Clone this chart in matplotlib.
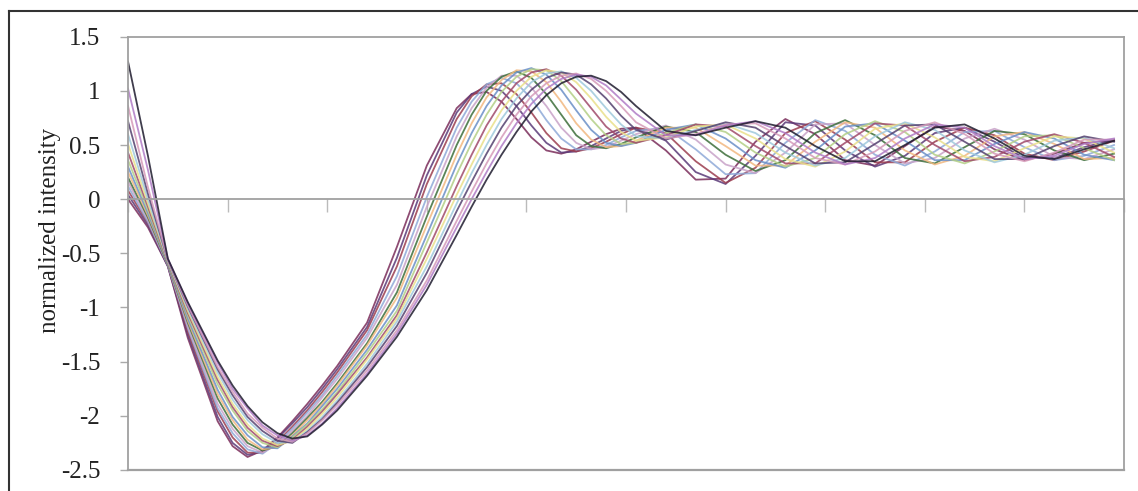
import matplotlib
matplotlib.use('Agg')
from matplotlib import pyplot as plt
from matplotlib.lines import Line2D

plt.rcParams['font.family'] = ['Liberation Serif', 'DejaVu Serif']

# sample positions along the profile (same for every curve)
x_pos = [0, 2, 4, 6, 9, 10.5, 12, 13.5, 15, 16.5, 18, 19.5, 21, 24, 27, 30, 33,
         34.5, 36, 37.5, 39, 40.5, 42, 43.5, 45, 46.5, 48, 49.5, 51, 54, 57, 60,
         63, 66, 69, 72, 75, 78, 81, 84, 87, 90, 93, 96, 99]

c01 = [0.00, -0.26, -0.62, -1.28, -2.05, -2.28, -2.38, -2.32, -2.20, -2.05, -1.89, -1.72, -1.54, -1.14, -0.44, 0.31, 0.84,
       0.97, 0.99, 0.90, 0.74, 0.57, 0.45, 0.42, 0.46, 0.53, 0.60, 0.65, 0.66, 0.45, 0.18, 0.19,
       0.53, 0.74, 0.60, 0.36, 0.31, 0.49, 0.67, 0.63, 0.46, 0.36, 0.42, 0.52, 0.54]
c02 = [0.04, -0.24, -0.62, -1.25, -2.01, -2.25, -2.36, -2.33, -2.21, -2.07, -1.92, -1.75, -1.57, -1.18, -0.54, 0.22, 0.80,
       0.97, 1.04, 1.00, 0.86, 0.68, 0.52, 0.43, 0.44, 0.49, 0.56, 0.63, 0.66, 0.54, 0.25, 0.14,
       0.40, 0.71, 0.68, 0.45, 0.30, 0.40, 0.61, 0.66, 0.53, 0.38, 0.38, 0.48, 0.55]
c03 = [0.08, -0.22, -0.61, -1.22, -1.96, -2.20, -2.34, -2.34, -2.24, -2.10, -1.95, -1.78, -1.60, -1.21, -0.62, 0.14, 0.74,
       0.95, 1.06, 1.07, 0.97, 0.80, 0.61, 0.47, 0.44, 0.47, 0.53, 0.60, 0.66, 0.61, 0.35, 0.15,
       0.29, 0.61, 0.72, 0.55, 0.34, 0.34, 0.53, 0.66, 0.59, 0.42, 0.36, 0.44, 0.54]
c04 = [0.12, -0.21, -0.61, -1.19, -1.93, -2.16, -2.31, -2.35, -2.25, -2.12, -1.97, -1.81, -1.63, -1.25, -0.71, 0.02, 0.66,
       0.90, 1.06, 1.12, 1.07, 0.93, 0.73, 0.56, 0.46, 0.46, 0.50, 0.57, 0.63, 0.66, 0.46, 0.23,
       0.24, 0.52, 0.73, 0.63, 0.41, 0.31, 0.44, 0.62, 0.63, 0.48, 0.36, 0.40, 0.50]
c05 = [0.16, -0.19, -0.60, -1.17, -1.89, -2.12, -2.28, -2.34, -2.26, -2.14, -2.00, -1.83, -1.66, -1.28, -0.79, -0.07, 0.58,
       0.84, 1.03, 1.14, 1.14, 1.03, 0.86, 0.66, 0.52, 0.46, 0.48, 0.54, 0.60, 0.68, 0.55, 0.32,
       0.24, 0.43, 0.69, 0.70, 0.50, 0.33, 0.38, 0.56, 0.65, 0.55, 0.39, 0.37, 0.46]
c06 = [0.20, -0.17, -0.60, -1.14, -1.84, -2.08, -2.25, -2.32, -2.28, -2.16, -2.02, -1.87, -1.70, -1.33, -0.86, -0.16, 0.50,
       0.78, 1.00, 1.13, 1.18, 1.12, 0.97, 0.78, 0.59, 0.49, 0.47, 0.51, 0.57, 0.67, 0.62, 0.41,
       0.26, 0.36, 0.61, 0.73, 0.59, 0.38, 0.33, 0.48, 0.63, 0.60, 0.45, 0.36, 0.42]
c07 = [0.25, -0.15, -0.59, -1.12, -1.80, -2.04, -2.22, -2.31, -2.29, -2.18, -2.04, -1.89, -1.72, -1.35, -0.91, -0.24, 0.41,
       0.70, 0.94, 1.10, 1.19, 1.18, 1.08, 0.90, 0.70, 0.55, 0.48, 0.49, 0.54, 0.66, 0.66, 0.49,
       0.31, 0.31, 0.53, 0.71, 0.66, 0.45, 0.32, 0.40, 0.58, 0.62, 0.51, 0.37, 0.38]
c08 = [0.30, -0.13, -0.59, -1.10, -1.76, -2.01, -2.18, -2.29, -2.30, -2.19, -2.07, -1.91, -1.75, -1.39, -0.98, -0.33, 0.32,
       0.61, 0.86, 1.05, 1.17, 1.21, 1.15, 1.01, 0.82, 0.64, 0.52, 0.49, 0.52, 0.64, 0.69, 0.56,
       0.36, 0.29, 0.45, 0.67, 0.70, 0.54, 0.36, 0.36, 0.51, 0.62, 0.56, 0.41, 0.36]
c09 = [0.36, -0.10, -0.58, -1.07, -1.71, -1.95, -2.14, -2.25, -2.29, -2.20, -2.08, -1.94, -1.78, -1.42, -1.03, -0.40, 0.23,
       0.52, 0.78, 0.99, 1.13, 1.20, 1.19, 1.09, 0.92, 0.74, 0.59, 0.51, 0.52, 0.61, 0.69, 0.62,
       0.43, 0.30, 0.38, 0.60, 0.72, 0.62, 0.41, 0.33, 0.44, 0.58, 0.59, 0.47, 0.36]
c10 = [0.43, -0.07, -0.58, -1.05, -1.67, -1.92, -2.11, -2.23, -2.28, -2.22, -2.10, -1.96, -1.80, -1.46, -1.07, -0.49, 0.12,
       0.41, 0.68, 0.90, 1.07, 1.17, 1.20, 1.14, 1.01, 0.84, 0.67, 0.56, 0.52, 0.59, 0.69, 0.67,
       0.49, 0.33, 0.33, 0.52, 0.70, 0.68, 0.50, 0.35, 0.39, 0.53, 0.60, 0.52, 0.39]
c11 = [0.51, -0.04, -0.57, -1.03, -1.64, -1.89, -2.08, -2.21, -2.27, -2.23, -2.12, -1.98, -1.83, -1.48, -1.10, -0.55, 0.04,
       0.32, 0.59, 0.82, 1.00, 1.13, 1.19, 1.17, 1.08, 0.93, 0.76, 0.62, 0.54, 0.57, 0.67, 0.69,
       0.56, 0.37, 0.30, 0.44, 0.65, 0.70, 0.57, 0.39, 0.35, 0.47, 0.58, 0.56, 0.43]
c12 = [0.60, 0.00, -0.57, -1.01, -1.60, -1.85, -2.04, -2.17, -2.25, -2.24, -2.14, -2.01, -1.86, -1.52, -1.13, -0.62, -0.04,
       0.24, 0.50, 0.74, 0.93, 1.08, 1.16, 1.18, 1.12, 1.00, 0.84, 0.69, 0.58, 0.56, 0.64, 0.70,
       0.61, 0.43, 0.31, 0.38, 0.58, 0.71, 0.64, 0.45, 0.34, 0.41, 0.54, 0.57, 0.47]
c13 = [0.72, 0.05, -0.56, -0.99, -1.57, -1.81, -2.01, -2.14, -2.23, -2.25, -2.15, -2.03, -1.88, -1.55, -1.17, -0.68, -0.11,
       0.16, 0.42, 0.66, 0.86, 1.01, 1.12, 1.17, 1.15, 1.06, 0.93, 0.77, 0.64, 0.55, 0.63, 0.71,
       0.66, 0.49, 0.33, 0.34, 0.51, 0.68, 0.69, 0.53, 0.37, 0.37, 0.49, 0.58, 0.53]
c14 = [0.86, 0.11, -0.56, -0.98, -1.55, -1.78, -1.98, -2.11, -2.21, -2.24, -2.16, -2.04, -1.90, -1.58, -1.21, -0.75, -0.20,
       0.07, 0.33, 0.57, 0.78, 0.95, 1.07, 1.14, 1.16, 1.11, 1.00, 0.86, 0.71, 0.56, 0.60, 0.69,
       0.70, 0.56, 0.38, 0.32, 0.44, 0.63, 0.71, 0.60, 0.42, 0.35, 0.43, 0.55, 0.55]
c15 = [1.02, 0.27, -0.55, -0.96, -1.51, -1.75, -1.93, -2.09, -2.18, -2.23, -2.18, -2.07, -1.93, -1.61, -1.24, -0.79, -0.26,
       0.00, 0.25, 0.49, 0.70, 0.88, 1.02, 1.11, 1.15, 1.13, 1.05, 0.92, 0.79, 0.59, 0.59, 0.68,
       0.72, 0.61, 0.43, 0.32, 0.38, 0.56, 0.69, 0.66, 0.49, 0.37, 0.40, 0.51, 0.56]
c16 = [1.27, 0.40, -0.55, -0.95, -1.49, -1.72, -1.91, -2.06, -2.16, -2.21, -2.19, -2.08, -1.95, -1.63, -1.27, -0.84, -0.33,
       -0.07, 0.18, 0.41, 0.62, 0.81, 0.96, 1.07, 1.13, 1.14, 1.09, 0.99, 0.86, 0.63, 0.59, 0.66,
       0.72, 0.66, 0.49, 0.35, 0.35, 0.50, 0.66, 0.69, 0.56, 0.40, 0.37, 0.46, 0.54]

curves = [c01, c02, c03, c04, c05, c06, c07, c08, c09, c10, c11, c12, c13, c14, c15, c16]
colors = ['#7a2c5a', '#5b3a78', '#9b3d4f', '#8ea9d8', '#c8a2c8', '#3d6e3a',
          '#f2b880', '#6a8fc7', '#b3cf86', '#a04a6a', '#e9e08a', '#9fc9dc',
          '#54406e', '#d59ab9', '#b07cc6', '#1e1b2e']

y_ticks = [-2.5, -2, -1.5, -1, -0.5, 0, 0.5, 1, 1.5]
y_tick_labels = ['-2.5', '-2', '-1.5', '-1', '-0.5', '0', '0.5', '1', '1.5']

fig = plt.figure(figsize=(11.38, 4.91), dpi=100)
ax = fig.add_axes([0.1125, 0.0428, 0.8752, 0.8825])

for ys, col in zip(curves, colors):
    ax.plot(x_pos, ys, color=col, lw=1.3, alpha=0.85, solid_joinstyle='round')

ax.set_xlim(0, 100)
ax.set_ylim(-2.5, 1.5)
ax.set_yticks(y_ticks)
ax.set_yticklabels(y_tick_labels)
ax.set_xticks(range(0, 101, 10))
ax.set_xticklabels([])

# horizontal axis sits at zero, plot area keeps a grey frame
ax.spines['bottom'].set_position(('data', 0))
for side in ['left', 'right', 'top', 'bottom']:
    ax.spines[side].set_color('#a0a0a0')
    ax.spines[side].set_linewidth(1.3)
ax.axhline(-2.5, color='#a0a0a0', lw=1.6, clip_on=False, zorder=3)

ax.tick_params(axis='x', direction='out', length=9, width=1, color='#bbbbbb')
ax.tick_params(axis='y', direction='out', length=6, width=1, color='#aaaaaa',
               pad=14, labelsize=18, labelcolor='#222222')

fig.text(50 / 1138, 1 - 230 / 491, 'normalized intensity', rotation=90,
         ha='center', va='center', fontsize=18, color='#222222')

# outer frame (top and left edges)
fig.add_artist(Line2D([9 / 1138, 1], [1 - 11 / 491, 1 - 11 / 491],
                      transform=fig.transFigure, color='#333333', lw=1.5))
fig.add_artist(Line2D([9 / 1138, 9 / 1138], [0, 1 - 11 / 491],
                      transform=fig.transFigure, color='#333333', lw=1.5))

fig.savefig('out.png', dpi=100)
